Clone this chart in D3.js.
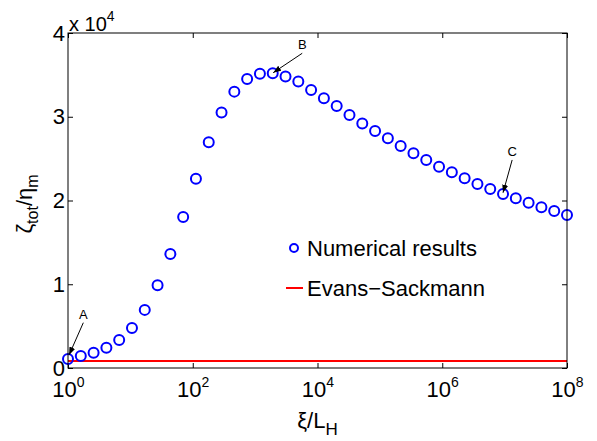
<!DOCTYPE html>
<html>
<head>
<meta charset="utf-8">
<script src="https://cdn.jsdelivr.net/npm/d3@7/dist/d3.min.js"></script>
<style>
  body { margin: 0; background: #fff; }
  svg { font-family: "Liberation Sans", Arial, sans-serif; }
</style>
</head>
<body>
<div id="chart"></div>
<script>
// xi/L_H sample points (40, log spaced from 1e0 to 1e8)
var xiValues = [1, 1.604, 2.572, 4.125, 6.615, 10.61, 17.01, 27.29, 43.76, 70.19,
  112.5, 180.5, 289.5, 464.2, 744.5, 1194, 1915, 3071, 4925, 7898,
  12665, 20310, 32570, 52240, 83770, 134300, 215400, 345500, 554000, 888500,
  1.425e6, 2.285e6, 3.665e6, 5.878e6, 9.427e6, 1.512e7, 2.424e7, 3.888e7, 6.236e7, 1e8];
// zeta_tot / eta_m, numerical results
var zetaValues = [1080, 1430, 1830, 2420, 3340, 4790, 6940, 9890, 13610, 18040,
  22600, 26950, 30500, 33000, 34500, 35140, 35200, 34800, 34200, 33200,
  32200, 31280, 30200, 29200, 28300, 27430, 26500, 25630, 24840, 24040,
  23370, 22650, 21970, 21370, 20780, 20260, 19740, 19190, 18750, 18270];
// Evans-Sackmann prediction (constant)
var esX = [1, 1e8];
var esY = [830, 830];

var xTicks = [1, 1e2, 1e4, 1e6, 1e8];
var xTickExp = ["0", "2", "4", "6", "8"];
var yTicks = [0, 10000, 20000, 30000, 40000];

// annotations: label, arrow head (data), arrow tail (data)
var annLabels = ["A", "B", "C"];
var annHead = [[1.04, 1550], [1950, 35260], [9.43e6, 20930]];
var annTail = [[1.76, 5410], [5690, 37580], [1.32e7, 24840]];

var W = 597, H = 441;
var plotL = 68, plotR = 567, plotT = 33, plotB = 368;

var svg = d3.select("#chart").append("svg").attr("width", W).attr("height", H);

var x = d3.scaleLog().domain([1, 1e8]).range([plotL, plotR]);
var y = d3.scaleLinear().domain([0, 40000]).range([plotB, plotT]);

// ticks, all four sides, pointing inward
var axB = svg.append("g").attr("transform", "translate(0," + plotB + ")")
  .call(d3.axisBottom(x).tickValues(xTicks).tickSizeInner(-5).tickSizeOuter(0).tickFormat(""));
var axT = svg.append("g").attr("transform", "translate(0," + plotT + ")")
  .call(d3.axisTop(x).tickValues(xTicks).tickSizeInner(-5).tickSizeOuter(0).tickFormat(""));
var axL = svg.append("g").attr("transform", "translate(" + plotL + ",0)")
  .call(d3.axisLeft(y).tickValues(yTicks).tickSizeInner(-5).tickSizeOuter(0).tickPadding(3)
    .tickFormat(function(d){ return d / 10000; }));
var axR = svg.append("g").attr("transform", "translate(" + plotR + ",0)")
  .call(d3.axisRight(y).tickValues(yTicks).tickSizeInner(-5).tickSizeOuter(0).tickFormat(""));

svg.selectAll(".domain").remove();
svg.selectAll(".tick line").attr("stroke", "#000").attr("stroke-width", 1);

axL.selectAll(".tick text")
  .attr("fill", "#000")
  .style("font-size", "22px");

// x tick labels 10^n
axB.selectAll(".tick").each(function(d, i) {
  var t = d3.select(this).append("text")
    .attr("y", 29)
    .attr("text-anchor", "middle")
    .attr("fill", "#000")
    .style("font-size", "22px");
  t.append("tspan").text("10");
  t.append("tspan").attr("dy", -10).style("font-size", "14px").text(xTickExp[i]);
});

// exponent marker above y axis
var ex = svg.append("text").attr("x", 69).attr("y", 31).attr("fill", "#000").style("font-size", "20px");
ex.append("tspan").text("x 10");
ex.append("tspan").attr("dy", -10).style("font-size", "14px").text("4");

// Evans-Sackmann line
var line = d3.line().x(function(d){ return x(d[0]); }).y(function(d){ return y(d[1]); });
svg.append("path")
  .datum(d3.zip(esX, esY))
  .attr("d", line)
  .attr("fill", "none")
  .attr("stroke", "#ff0000")
  .attr("stroke-width", 2);

// numerical results
svg.selectAll("circle.pt")
  .data(d3.zip(xiValues, zetaValues))
  .enter().append("circle")
  .attr("class", "pt")
  .attr("cx", function(d){ return x(d[0]); })
  .attr("cy", function(d){ return y(d[1]); })
  .attr("r", 5)
  .attr("fill", "none")
  .attr("stroke", "#0000ff")
  .attr("stroke-width", 2);

// box
svg.append("rect")
  .attr("x", plotL).attr("y", plotT)
  .attr("width", plotR - plotL).attr("height", plotB - plotT)
  .attr("fill", "none").attr("stroke", "#000").attr("stroke-width", 1);

// annotations
svg.append("defs").append("marker")
  .attr("id", "arrow")
  .attr("markerUnits", "userSpaceOnUse")
  .attr("markerWidth", 8).attr("markerHeight", 6)
  .attr("refX", 8).attr("refY", 3)
  .attr("orient", "auto")
  .append("path").attr("d", "M0,0L8,3L0,6Z").attr("fill", "#000");

annLabels.forEach(function(lab, i) {
  var tx = x(annTail[i][0]), ty = y(annTail[i][1]);
  svg.append("line")
    .attr("x1", tx).attr("y1", ty)
    .attr("x2", x(annHead[i][0])).attr("y2", y(annHead[i][1]))
    .attr("stroke", "#000").attr("stroke-width", 1)
    .attr("marker-end", "url(#arrow)");
  svg.append("text")
    .attr("x", tx).attr("y", ty - 4)
    .attr("text-anchor", "middle")
    .attr("fill", "#000")
    .style("font-size", "13px")
    .text(lab);
});

// legend (no box)
svg.append("circle").attr("cx", 294).attr("cy", 248).attr("r", 4)
  .attr("fill", "none").attr("stroke", "#0000ff").attr("stroke-width", 2);
svg.append("text").attr("x", 307).attr("y", 256).attr("fill", "#000")
  .style("font-size", "22px").text("Numerical results");
svg.append("line").attr("x1", 286).attr("x2", 303).attr("y1", 288).attr("y2", 288)
  .attr("stroke", "#ff0000").attr("stroke-width", 2);
svg.append("text").attr("x", 307).attr("y", 296).attr("fill", "#000")
  .style("font-size", "22px").text("Evans\u2212Sackmann");

// axis titles
var xl = svg.append("text").attr("x", (plotL + plotR) / 2).attr("y", 428)
  .attr("text-anchor", "middle").attr("fill", "#000").style("font-size", "22px");
xl.append("tspan").text("\u03be/L");
xl.append("tspan").attr("dy", 7).style("font-size", "17px").text("H");

var yl = svg.append("text").attr("transform", "translate(32,204) rotate(-90)")
  .attr("text-anchor", "middle").attr("fill", "#000").style("font-size", "22px");
yl.append("tspan").text("\u03b6");
yl.append("tspan").attr("dy", 6).style("font-size", "16px").text("tot");
yl.append("tspan").attr("dy", -6).text("/\u03b7");
yl.append("tspan").attr("dy", 6).style("font-size", "16px").text("m");
</script>
</body>
</html>
